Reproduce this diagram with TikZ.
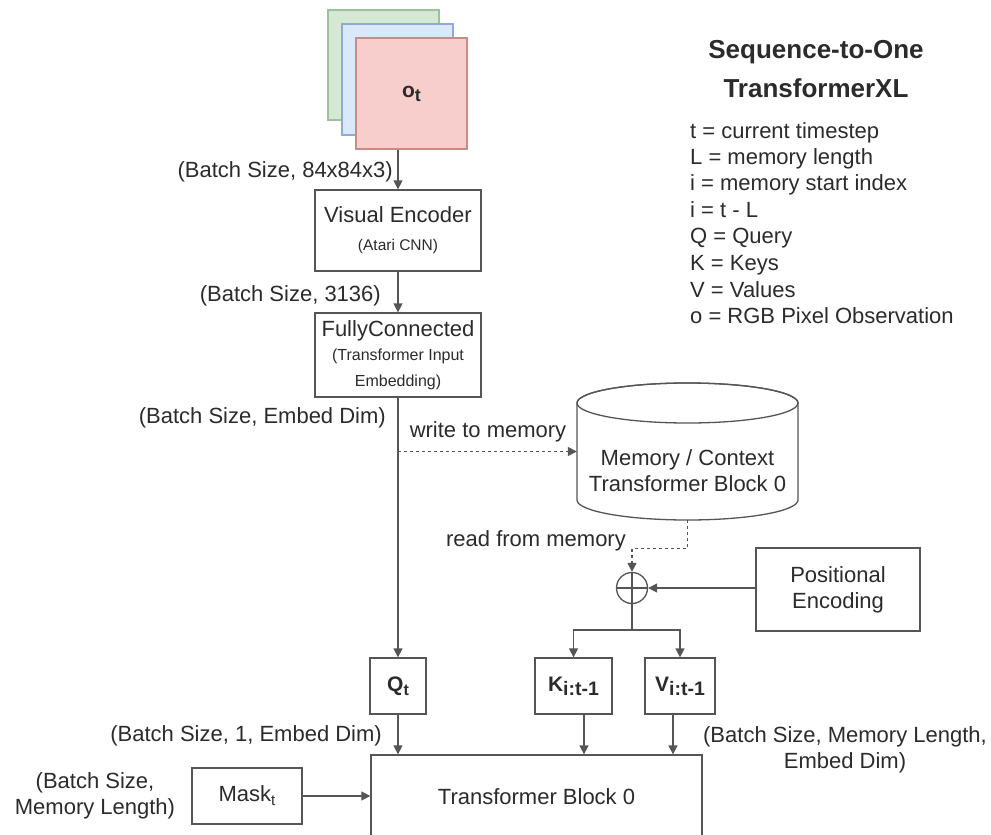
\documentclass[tikz,border=0pt]{standalone}
\usepackage{fontspec}
\setmainfont{Liberation Sans}
\usetikzlibrary{arrows.meta,calc}
\definecolor{ln}{HTML}{555555}
\definecolor{tx}{HTML}{2b2b2b}
\definecolor{gfill}{HTML}{D5E8D4}
\definecolor{gdraw}{HTML}{9CC29A}
\definecolor{bfill}{HTML}{DAE8FC}
\definecolor{bdraw}{HTML}{8FAAD6}
\definecolor{pfill}{HTML}{F8CECC}
\definecolor{pdraw}{HTML}{C98A88}
\newcommand{\fsz}[2]{\fontsize{#1}{#2}\selectfont}
\begin{document}
\begin{tikzpicture}[x=1pt,y=1pt,
  font=\fsz{22}{26}, text=tx,
  box/.style={draw=ln, line width=1.3pt, fill=white, inner sep=0pt, align=center},
  arr/.style={draw=ln, line width=1.3pt, -{Triangle[length=9pt,width=9pt]}},
  dsh/.style={arr, dash pattern=on 3pt off 3pt},
  lbl/.style={inner sep=0pt, text height=16pt, text depth=4.5pt},
  mlbl/.style={inner sep=0pt, align=center},
  ttl/.style={inner sep=0pt, font=\fsz{26}{31}\bfseries}
]
\useasboundingbox (0,0) rectangle (991,-835);
\clip (0,0) rectangle (991,-835);

% observation stack
\node[box, fill=gfill, draw=gdraw, minimum width=111, minimum height=110] (obsG) at (383.5,-65) {};
\node[box, fill=bfill, draw=bdraw, minimum width=111, minimum height=111] (obsB) at (397.5,-79.5) {};
\node[box, fill=pfill, draw=pdraw, minimum width=111, minimum height=111] (obs) at (411.5,-93.5)
  {\fsz{21}{24}\bfseries o\raisebox{-4pt}{\fsz{18}{18}\bfseries t}};

% encoder and FC
\node[box, minimum width=166, minimum height=81] (enc) at (398,-230.5)
  {Visual Encoder\\[2pt]\fsz{15.5}{17}(Atari CNN)};
\node[box, minimum width=166, minimum height=84] (fc) at (398,-355)
  {FullyConnected\\[-2pt]\fsz{16}{22.5}(Transformer Input\\\fsz{16}{22.5}Embedding)};

% memory cylinder
\node[inner sep=0pt, minimum width=221, minimum height=137] (mem) at (687.5,-451.5) {};
\draw[draw=ln, line width=1.3pt, fill=white] (577,-403) -- (577,-500)
  arc[start angle=180, end angle=360, x radius=110.5, y radius=20] -- (798,-403)
  arc[start angle=0, end angle=180, x radius=110.5, y radius=20] -- cycle;
\draw[draw=ln, line width=1.3pt] (687.5,-403) ellipse [x radius=110.5, y radius=20];
\node[mlbl] (memtxt) at (687.5,-471) {Memory / Context\\Transformer Block 0};

% plus and positional encoding
\node[circle, draw=ln, line width=1.3pt, minimum size=31, inner sep=0pt] (plus) at (632,-588) {};
\draw[draw=ln, line width=1.3pt] (plus.north) -- (plus.south) (plus.west) -- (plus.east);
\node[box, minimum width=164, minimum height=83] (pe) at (838,-589.5) {Positional\\Encoding};

% Q K V
\node[box, minimum width=56, minimum height=56] (q) at (398,-686)
  {\fsz{21}{24}\bfseries Q\raisebox{-4pt}{\fsz{16}{16}\bfseries t}};
\node[box, minimum width=77, minimum height=56] (k) at (573.5,-686)
  {\fsz{21}{24}\bfseries K\raisebox{-4pt}{\fsz{19.5}{19}\bfseries i:t-1}};
\node[box, minimum width=70, minimum height=56] (v) at (680,-686)
  {\fsz{21}{24}\bfseries V\raisebox{-4pt}{\fsz{19.5}{19}\bfseries i:t-1}};

% transformer block and mask
\node[box, minimum width=331, minimum height=84] (tb) at (536.5,-797) {Transformer Block 0};
\node[box, minimum width=110, minimum height=56] (mask) at (247,-796)
  {Mask\raisebox{-4pt}{\fsz{15}{16}t}};

% connectors
\draw[arr] (enc.north |- obs.south) -- (enc.north);
\draw[arr] (enc.south) -- (fc.north);
\draw[arr] (fc.south) -- (q.north);
\draw[dsh] (fc.south |- mem.west) -- (mem.west);
\draw[dsh] (mem.south) -- ++(0,-28) -| (plus.north);
\draw[arr] (pe.west |- plus.east) -- (plus.east);
\coordinate (split) at (632,-630);
\draw[draw=ln, line width=1.3pt] (plus.south) -- (split);
\draw[arr] (split) -| (k.north);
\draw[arr] (split) -| (v.north);
\draw[arr] ([xshift=10.5pt]k.south) -- ([xshift=10.5pt]k.south |- tb.north);
\draw[arr] ([xshift=-7pt]v.south) -- ([xshift=-7pt]v.south |- tb.north);
\draw[arr] (q.south) -- (q.south |- tb.north);
\draw[arr] (mask.east) -- (mask.east -| tb.west);

% labels
\node[lbl, anchor=east] (l1) at (393,-172) {(Batch Size, 84x84x3)};
\node[lbl, anchor=east] (l2) at (381,-296) {(Batch Size, 3136)};
\node[lbl, anchor=east] (l3) at (386,-418) {(Batch Size, Embed Dim)};
\node[lbl] (l4) at (488,-432) {write to memory};
\node[lbl] (l5) at (536,-541) {read from memory};
\node[lbl, anchor=east] (l6) at (382,-736) {(Batch Size, 1, Embed Dim)};
\node[mlbl] (l7) at (95,-796) {(Batch Size,\\Memory Length)};
\node[mlbl] (l8) at (845,-750) {(Batch Size, Memory Length,\\Embed Dim)};

% title and legend
\node[ttl] (t1) at (816,-52) {Sequence-to-One};
\node[ttl] (t2) at (816,-88) {TransformerXL};
\node[lbl, anchor=west] (g1) at (690,-133) {t = current timestep};
\node[lbl, anchor=west] (g2) at (690,-159) {L = memory length};
\node[lbl, anchor=west] (g3) at (690,-185) {i = memory start index};
\node[lbl, anchor=west] (g4) at (690,-212) {i = t - L};
\node[lbl, anchor=west] (g5) at (690,-238) {Q = Query};
\node[lbl, anchor=west] (g6) at (690,-265) {K = Keys};
\node[lbl, anchor=west] (g7) at (690,-292) {V = Values};
\node[lbl, anchor=west] (g8) at (690,-318) {o = RGB Pixel Observation};
\end{tikzpicture}
\end{document}
